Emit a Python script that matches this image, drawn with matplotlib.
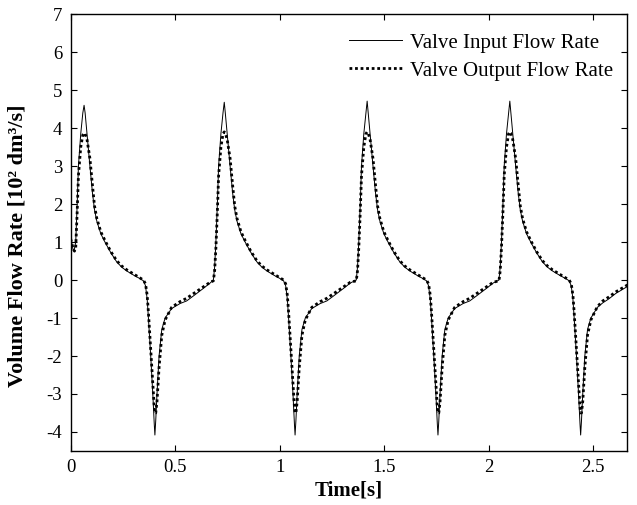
import matplotlib
matplotlib.use("Agg")
import matplotlib.pyplot as plt

# time [s]
time = [
    0.000, 0.006, 0.012, 0.018, 0.024, 0.031, 0.037, 0.048, 0.058, 0.064, 0.069, 0.078, 0.092, 0.104,
    0.114, 0.125, 0.144, 0.164, 0.192, 0.220, 0.244, 0.268, 0.304, 0.334, 0.348, 0.358, 0.366, 0.372,
    0.383, 0.393, 0.400, 0.403, 0.407, 0.413, 0.423, 0.436, 0.452, 0.483, 0.523, 0.555, 0.587, 0.635, 0.667,
    0.683, 0.689, 0.695, 0.702, 0.708, 0.719, 0.729, 0.735, 0.740, 0.749, 0.763, 0.775, 0.785, 0.796,
    0.815, 0.835, 0.863, 0.891, 0.915, 0.939, 0.975, 1.005, 1.019, 1.029, 1.037, 1.043, 1.054, 1.064,
    1.071, 1.074, 1.078, 1.084, 1.094, 1.107, 1.123, 1.154, 1.194, 1.226, 1.258, 1.306, 1.338,
    1.367, 1.373, 1.379, 1.386, 1.392, 1.403, 1.413, 1.419, 1.424, 1.433, 1.447, 1.459, 1.469, 1.480,
    1.499, 1.519, 1.547, 1.575, 1.599, 1.623, 1.659, 1.689, 1.703, 1.713, 1.721, 1.727, 1.738, 1.748,
    1.755, 1.758, 1.762, 1.768, 1.778, 1.791, 1.807, 1.838, 1.878, 1.910, 1.942, 1.990, 2.022,
    2.050, 2.056, 2.062, 2.069, 2.075, 2.086, 2.096, 2.102, 2.107, 2.116, 2.130, 2.142, 2.152, 2.163,
    2.182, 2.202, 2.230, 2.258, 2.282, 2.306, 2.342, 2.372, 2.386, 2.396, 2.404, 2.410, 2.421, 2.431,
    2.438, 2.441, 2.445, 2.451, 2.461, 2.474, 2.490, 2.521, 2.547, 2.575, 2.610, 2.640, 2.665,
]

# valve input flow rate [10^2 dm^3/s]
flow_in = [
    1.12, 0.95, 0.78, 0.82, 1.00, 2.00, 3.00, 3.85, 4.40, 4.60, 4.40, 3.85, 3.00, 2.30,
    1.85, 1.55, 1.22, 1.00, 0.72, 0.48, 0.34, 0.24, 0.12, 0.03, -0.02, -0.15, -0.50, -1.00,
    -2.00, -3.00, -3.80, -4.08, -3.70, -3.00, -2.00, -1.30, -1.00, -0.75, -0.62, -0.55, -0.42, -0.22, -0.08,
    0.00, 0.35, 1.00, 2.00, 3.00, 3.85, 4.40, 4.68, 4.40, 3.85, 3.00, 2.30, 1.85, 1.55,
    1.22, 1.00, 0.72, 0.48, 0.34, 0.24, 0.12, 0.03, -0.02, -0.15, -0.50, -1.00, -2.00, -3.00,
    -3.80, -4.08, -3.70, -3.00, -2.00, -1.30, -1.00, -0.75, -0.62, -0.55, -0.42, -0.22, -0.08,
    0.00, 0.35, 1.00, 2.00, 3.00, 3.85, 4.40, 4.71, 4.40, 3.85, 3.00, 2.30, 1.85, 1.55,
    1.22, 1.00, 0.72, 0.48, 0.34, 0.24, 0.12, 0.03, -0.02, -0.15, -0.50, -1.00, -2.00, -3.00,
    -3.80, -4.08, -3.70, -3.00, -2.00, -1.30, -1.00, -0.75, -0.62, -0.55, -0.42, -0.22, -0.08,
    0.00, 0.35, 1.00, 2.00, 3.00, 3.85, 4.40, 4.71, 4.40, 3.85, 3.00, 2.30, 1.85, 1.55,
    1.22, 1.00, 0.72, 0.48, 0.34, 0.24, 0.12, 0.03, -0.02, -0.15, -0.50, -1.00, -2.00, -3.00,
    -3.80, -4.08, -3.70, -3.00, -2.00, -1.30, -1.00, -0.72, -0.60, -0.50, -0.35, -0.25, -0.17,
]

# valve output flow rate [10^2 dm^3/s]
flow_out = [
    1.08, 0.95, 0.82, 0.76, 0.85, 1.80, 2.75, 3.50, 3.82, 3.87, 3.85, 3.70, 3.20, 2.50,
    1.95, 1.62, 1.27, 1.04, 0.75, 0.51, 0.37, 0.27, 0.15, 0.05, 0.00, -0.10, -0.40, -0.85,
    -1.85, -2.80, -3.35, -3.50, -3.50, -3.20, -2.30, -1.45, -1.05, -0.72, -0.57, -0.48, -0.36, -0.18, -0.06,
    -0.02, 0.25, 0.85, 1.80, 2.75, 3.50, 3.85, 3.90, 3.87, 3.70, 3.20, 2.50, 1.95, 1.62,
    1.27, 1.04, 0.75, 0.51, 0.37, 0.27, 0.15, 0.05, 0.00, -0.10, -0.40, -0.85, -1.85, -2.80,
    -3.35, -3.50, -3.50, -3.20, -2.30, -1.45, -1.05, -0.72, -0.57, -0.48, -0.36, -0.18, -0.06,
    -0.02, 0.25, 0.85, 1.80, 2.75, 3.50, 3.85, 3.90, 3.87, 3.70, 3.20, 2.50, 1.95, 1.62,
    1.27, 1.04, 0.75, 0.51, 0.37, 0.27, 0.15, 0.05, 0.00, -0.10, -0.40, -0.85, -1.85, -2.80,
    -3.35, -3.50, -3.50, -3.20, -2.30, -1.45, -1.05, -0.72, -0.57, -0.48, -0.36, -0.18, -0.06,
    -0.02, 0.25, 0.85, 1.80, 2.75, 3.50, 3.85, 3.90, 3.87, 3.70, 3.20, 2.50, 1.95, 1.62,
    1.27, 1.04, 0.75, 0.51, 0.37, 0.27, 0.15, 0.05, 0.00, -0.10, -0.40, -0.85, -1.85, -2.80,
    -3.35, -3.50, -3.50, -3.20, -2.30, -1.45, -1.05, -0.70, -0.55, -0.45, -0.31, -0.21, -0.13,
]

x_ticks = [0, 0.5, 1, 1.5, 2, 2.5]
x_labels = ["0", "0.5", "1", "1.5", "2", "2.5"]
y_ticks = [-4, -3, -2, -1, 0, 1, 2, 3, 4, 5, 6, 7]

plt.rcParams["font.family"] = ["Liberation Serif", "DejaVu Serif"]
plt.rcParams["axes.unicode_minus"] = False

fig = plt.figure(figsize=(6.37, 5.05), dpi=100)
ax = fig.add_axes([0.111, 0.107, 0.874, 0.865])

ax.plot(time, flow_in, color="black", lw=0.7, label="Valve Input Flow Rate")
ax.plot(time, flow_out, color="black", lw=2.0, linestyle=(0, (1, 1)),
        label="Valve Output Flow Rate")

ax.set_xlim(0, 2.665)
ax.set_ylim(-4.5, 7)
ax.set_xticks(x_ticks)
ax.set_xticklabels(x_labels)
ax.set_yticks(y_ticks)
ax.tick_params(direction="in", top=True, right=True, length=4, width=0.8,
               labelsize=13.5, pad=6)
for s in ax.spines.values():
    s.set_linewidth(1.0)

ax.set_xlabel("Time[s]", fontsize=15, fontweight="bold", labelpad=3)
ax.set_ylabel("Volume Flow Rate [10² dm³/s]", fontsize=16, fontweight="bold")
ax.yaxis.set_label_coords(-0.078, 0.47)

ax.legend(loc="upper right", bbox_to_anchor=(1.0, 0.99), frameon=False, fontsize=15,
          handlelength=2.55, handletextpad=0.35, labelspacing=0.4, borderaxespad=0.3)

fig.savefig("out.png", dpi=100)
